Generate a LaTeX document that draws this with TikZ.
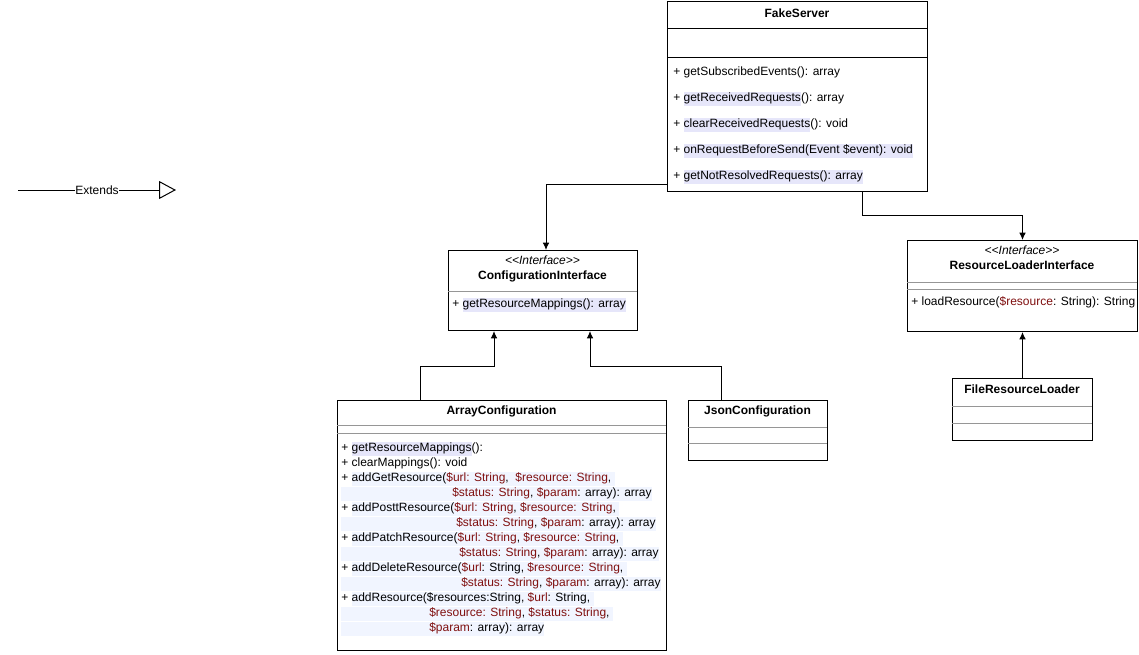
\documentclass[tikz,border=0pt]{standalone}
\usepackage{fontspec}
\setmainfont{Liberation Sans}
\usetikzlibrary{arrows.meta,calc}
\definecolor{hl}{RGB}{230,230,250}
\definecolor{faint}{RGB}{241,245,255}
\definecolor{vr}{RGB}{128,16,16}
\definecolor{sepc}{RGB}{150,150,150}
\newcommand\hlx[1]{{\setlength{\fboxsep}{0pt}\colorbox{hl}{\strut#1}}}
\newcommand\fnt[1]{{\setlength{\fboxsep}{0pt}\colorbox{faint}{\strut#1}}}
\newcommand\rv[1]{\textcolor{vr}{#1}}
\begin{document}
\begin{tikzpicture}[x=0.75pt,y=-0.75pt,
  font=\fontsize{9}{11}\selectfont,
  classbox/.style={draw, line width=0.75pt, anchor=north west, inner sep=0pt, fill=white},
  txt/.style={anchor=west, inner sep=0pt, execute at begin node=\strut},
  ttl/.style={anchor=center, inner sep=0pt, font=\fontsize{9}{11}\selectfont\bfseries, execute at begin node=\strut},
  ster/.style={anchor=center, inner sep=0pt, font=\fontsize{9}{11}\selectfont\itshape, execute at begin node=\strut},
  arr/.style={line width=0.75pt, -{Latex[length=5.5pt,width=5pt]}},
  sepline/.style={draw=sepc, line width=0.75pt},
  blkline/.style={draw=black, line width=0.75pt}]
\useasboundingbox (0,0) rectangle (1139,654);

% ---------- FakeServer ----------
\node[classbox, minimum width=195pt, minimum height=142.5pt] (fs) at (667,1) {};
\draw[blkline] (667,28) -- (927,28);
\draw[blkline] (667,57) -- (927,57);
\node[ttl] (fst) at (797,15) {FakeServer};
\node[txt] (fs1) at (673,73) {+ getSubscribedEvents(): array};
\node[txt] (fs2) at (673,99) {+ \hlx{getReceivedRequests}(): array};
\node[txt] (fs3) at (673,125) {+ \hlx{clearReceivedRequests}(): void};
\node[txt] (fs4) at (673,151) {+ \hlx{onRequestBeforeSend(Event \$event): void}};
\node[txt] (fs5) at (673,177) {+ \hlx{getNotResolvedRequests(): array}};

% ---------- ConfigurationInterface ----------
\node[classbox, minimum width=141.75pt, minimum height=60pt] (ci) at (448,250) {};
\draw[sepline] (448,291) -- (637,291);
\node[ster] (cis) at (542.5,262) {<\kern0pt<Interface>\kern0pt>};
\node[ttl] (cit) at (542.5,277) {ConfigurationInterface};
\node[txt] (ci1) at (452,305) {+ \hlx{getResourceMappings(): array}};

% ---------- ResourceLoaderInterface ----------
\node[classbox, minimum width=172.5pt, minimum height=68.25pt] (rli) at (907,240) {};
\draw[sepline] (907,282) -- (1137,282);
\draw[sepline] (907,289) -- (1137,289);
\node[ster] (rlis) at (1022,252) {<\kern0pt<Interface>\kern0pt>};
\node[ttl] (rlit) at (1022,267) {ResourceLoaderInterface};
\node[txt] (rli1) at (911,303) {+ loadResource(\rv{\$resource}: String): String};

% ---------- ArrayConfiguration ----------
\node[classbox, minimum width=246.75pt, minimum height=187.5pt] (ac) at (337,400) {};
\draw[sepline] (337,425) -- (666,425);
\draw[sepline] (337,433) -- (666,433);
\node[ttl] (act) at (501.5,412) {ArrayConfiguration};
\node[txt] (ac1) at (341,449) {+ \hlx{getResourceMappings}():};
\node[txt] (ac2) at (341,464) {+ clearMappings(): void};
\node[txt] (ac3) at (341,479) {+ \fnt{addGetResource(\rv{\$url: String},\ \ \rv{\$resource: String},\ }};
\node[txt] (ac4) at (341,494) {\fnt{\hspace*{83.25pt}\rv{\$status: String}, \rv{\$param}: array): array}};
\node[txt] (ac5) at (341,509) {+ \fnt{addPosttResource(\rv{\$url: String}, \rv{\$resource: String},\ }};
\node[txt] (ac6) at (341,524) {\fnt{\hspace*{86.25pt}\rv{\$status: String}, \rv{\$param}: array): array}};
\node[txt] (ac7) at (341,539) {+ \fnt{addPatchResource(\rv{\$url: String}, \rv{\$resource: String},\ }};
\node[txt] (ac8) at (341,554) {\fnt{\hspace*{88.5pt}\rv{\$status: String}, \rv{\$param}: array): array}};
\node[txt] (ac9) at (341,569) {+ \fnt{addDeleteResource(\rv{\$url}: String, \rv{\$resource: String},\ }};
\node[txt] (ac10) at (341,584) {\fnt{\hspace*{90pt}\rv{\$status: String}, \rv{\$param}: array): array}};
\node[txt] (ac11) at (341,599) {+ \fnt{addResource(\$resources:String, \rv{\$url}: String,\ }};
\node[txt] (ac12) at (341,614) {\fnt{\hspace*{66pt}\rv{\$resource: String}, \rv{\$status: String},\ }};
\node[txt] (ac13) at (341,629) {\fnt{\hspace*{66pt}\rv{\$param}: array): array}};

% ---------- JsonConfiguration ----------
\node[classbox, minimum width=104.25pt, minimum height=45pt] (jc) at (688,400) {};
\draw[sepline] (688,427) -- (827,427);
\draw[sepline] (688,443) -- (827,443);
\node[ttl] (jct) at (757.5,412) {JsonConfiguration};

% ---------- FileResourceLoader ----------
\node[classbox, minimum width=105pt, minimum height=46.5pt] (frl) at (952,378) {};
\draw[sepline] (952,406) -- (1092,406);
\draw[sepline] (952,423) -- (1092,423);
\node[ttl] (frlt) at (1022,391) {FileResourceLoader};

% ---------- connectors ----------
\coordinate (k1) at (546,184);
\draw[arr] (fs.west |- k1) -- (k1) -- (ci.north -| k1);
\coordinate (k2) at (862,215);
\draw[arr] (fs.south -| k2) -- (k2) -| (rli.north);
\coordinate (k3a) at (420,366);
\coordinate (k3b) at (494,366);
\draw[arr] (ac.north -| k3a) -- (k3a) -- (k3b) -- (ci.south -| k3b);
\coordinate (k4a) at (721,366);
\coordinate (k4b) at (590,366);
\draw[arr] (jc.north -| k4a) -- (k4a) -- (k4b) -- (ci.south -| k4b);
\draw[arr] (frl.north) -- (rli.south);

% ---------- legend ----------
\coordinate (e0) at (18,190);
\coordinate (e1) at (176,190);
\draw[line width=0.75pt, -{Triangle[open,length=12.75pt,width=13.5pt]}] (e0) -- (e1)
  node[midway, fill=white, inner sep=0.5pt] (ext) {Extends};
\end{tikzpicture}
\end{document}
